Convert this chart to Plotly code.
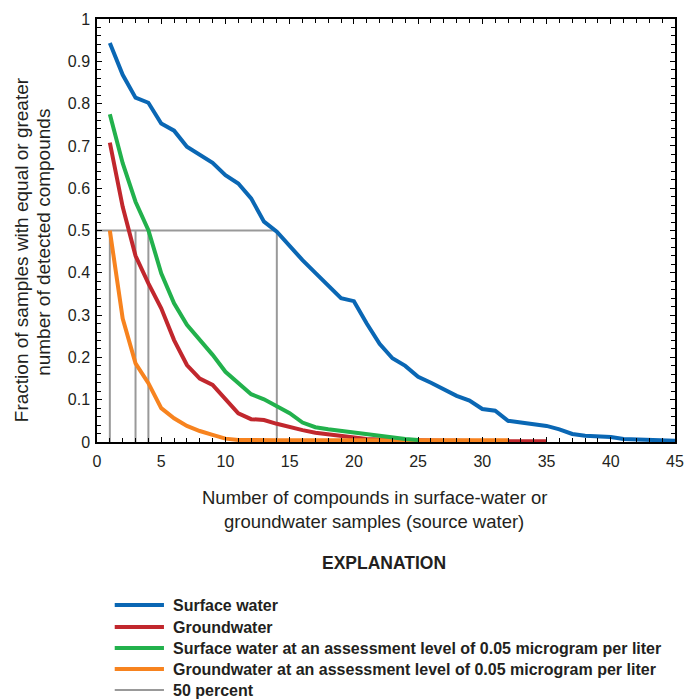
import plotly.graph_objects as go

FONT = "Liberation Sans, Arial, sans-serif"

# ---- data ----
surface_x = list(range(1, 46))
surface_y = [0.943, 0.868, 0.814, 0.802, 0.753, 0.736, 0.698, 0.680, 0.660, 0.631,
             0.611, 0.576, 0.521, 0.497, 0.462, 0.430, 0.400, 0.370, 0.340, 0.333,
             0.280, 0.232, 0.198, 0.180, 0.154, 0.140, 0.125, 0.109, 0.098, 0.078,
             0.074, 0.050, 0.046, 0.043, 0.038, 0.030, 0.019, 0.015, 0.013, 0.012,
             0.007, 0.006, 0.005, 0.004, 0.003]

ground_x = list(range(1, 36))
ground_y = [0.708, 0.556, 0.440, 0.375, 0.316, 0.241, 0.182, 0.150, 0.135, 0.103,
            0.068, 0.054, 0.052, 0.043, 0.035, 0.028, 0.022, 0.018, 0.013, 0.009,
            0.007, 0.006, 0.005, 0.004, 0.004, 0.003, 0.003, 0.003, 0.002, 0.002,
            0.002, 0.002, 0.002, 0.002, 0.002]

surface05_x = list(range(1, 26))
surface05_y = [0.775, 0.659, 0.568, 0.501, 0.399, 0.328, 0.277, 0.241, 0.206, 0.166,
               0.139, 0.113, 0.101, 0.085, 0.068, 0.046, 0.035, 0.030, 0.026, 0.021,
               0.017, 0.013, 0.010, 0.007, 0.005]

ground05_x = list(range(1, 33))
ground05_y = [0.500, 0.292, 0.186, 0.139, 0.080, 0.056, 0.038, 0.026, 0.017, 0.008,
              0.005, 0.004, 0.004, 0.004, 0.004, 0.004, 0.004, 0.004, 0.004, 0.004,
              0.004, 0.004, 0.004, 0.004, 0.004, 0.004, 0.004, 0.004, 0.004, 0.004,
              0.004, 0.004]

fifty_level = 0.5
fifty_crossings = [1, 3, 4, 14]

x_ticks = [0, 5, 10, 15, 20, 25, 30, 35, 40, 45]
y_ticks = [0, 0.1, 0.2, 0.3, 0.4, 0.5, 0.6, 0.7, 0.8, 0.9, 1]
y_ticklabels = ["0", "0.1", "0.2", "0.3", "0.4", "0.5", "0.6", "0.7", "0.8", "0.9", "1"]

names = ["Surface water", "Groundwater",
         "Surface water at an assessment level of 0.05 microgram per liter",
         "Groundwater at an assessment level of 0.05 microgram per liter",
         "50 percent"]
colors = ["#0a67b4", "#c1272d", "#22b14c", "#f7831f", "#999999"]

# ---- figure ----
fig = go.Figure()

# 50 percent guide lines
gx = [0, max(fifty_crossings)]
gy = [fifty_level, fifty_level]
for c in fifty_crossings:
    gx += [None, c, c]
    gy += [None, 0, fifty_level]
fig.add_trace(go.Scatter(x=gx, y=gy, mode="lines", line=dict(color=colors[4], width=2),
                         name=names[4], showlegend=False, hoverinfo="skip"))

series = [(ground_x, ground_y, 1), (ground05_x, ground05_y, 3),
          (surface05_x, surface05_y, 2), (surface_x, surface_y, 0)]
for xs, ys, i in series:
    fig.add_trace(go.Scatter(x=xs, y=ys, mode="lines", name=names[i],
                             line=dict(color=colors[i], width=4), showlegend=False))

L, R, T, B = 97, 4, 19, 258
W, H = 688, 700
pw, ph = W - L - R, H - T - B

def px_to_paper(px, py):
    return (px - L) / pw, (H - B - py) / ph

axis_common = dict(showgrid=False, zeroline=False, showline=True, linecolor="black",
                   linewidth=1.5, mirror="ticks", ticks="inside", tickcolor="black",
                   ticklen=5, tickwidth=1.2,
                   tickfont=dict(family=FONT, size=16, color="#231f20"))

fig.update_xaxes(range=[0, 45], tickvals=x_ticks, ticklabeloverflow="allow",
                 ticklabelstandoff=4, **axis_common,
                 minor=dict(dtick=1, ticks="inside", ticklen=4, tickcolor="black", tickwidth=1))
fig.update_yaxes(range=[0, 1], tickvals=y_ticks, ticktext=y_ticklabels,
                 ticklabelstandoff=2, **axis_common,
                 minor=dict(dtick=0.02, ticks="inside", ticklen=4, tickcolor="black", tickwidth=1))

annotations = []
shapes = []

# axis titles
for txt, ypx in [("Number of compounds in surface-water or", 497),
                 ("groundwater samples (source water)", 521)]:
    ax, ay = px_to_paper(378.5, ypx)
    annotations.append(dict(text=txt, x=ax, y=ay, xref="paper", yref="paper",
                            showarrow=False, xanchor="center", yanchor="middle",
                            font=dict(family=FONT, size=18.5, color="#231f20")))
for txt, xpx, ypx in [("Fraction of samples with equal or greater", 20, 250),
                      ("number of detected compounds", 42, 242)]:
    ax, ay = px_to_paper(xpx, ypx)
    annotations.append(dict(text=txt, x=ax, y=ay, xref="paper", yref="paper",
                            showarrow=False, textangle=-90,
                            xanchor="center", yanchor="middle",
                            font=dict(family=FONT, size=19, color="#231f20")))

# explanation
ax, ay = px_to_paper(388, 563)
annotations.append(dict(text="<b>EXPLANATION</b>", x=ax, y=ay, xref="paper", yref="paper",
                        showarrow=False, xanchor="center", yanchor="middle",
                        font=dict(family=FONT, size=17.5, color="#231f20")))

legend_order = [0, 1, 2, 3, 4]
legend_y = [605, 627, 648, 669, 690]
for i, ypx in zip(legend_order, legend_y):
    x0, y0 = px_to_paper(115, ypx)
    x1, _ = px_to_paper(165, ypx)
    shapes.append(dict(type="line", xref="paper", yref="paper", x0=x0, x1=x1, y0=y0, y1=y0,
                       line=dict(color=colors[i], width=2 if i == 4 else 4)))
    tx, _ = px_to_paper(172, ypx)
    annotations.append(dict(text="<b>" + names[i] + "</b>", x=tx, y=y0, xref="paper",
                            yref="paper", showarrow=False, xanchor="left", yanchor="middle",
                            font=dict(family=FONT, size=16, color="#231f20")))

fig.update_layout(width=W, height=H, margin=dict(l=L, r=R, t=T, b=B),
                  paper_bgcolor="white", plot_bgcolor="white",
                  showlegend=False, annotations=annotations, shapes=shapes)

fig.write_html("out.html")
